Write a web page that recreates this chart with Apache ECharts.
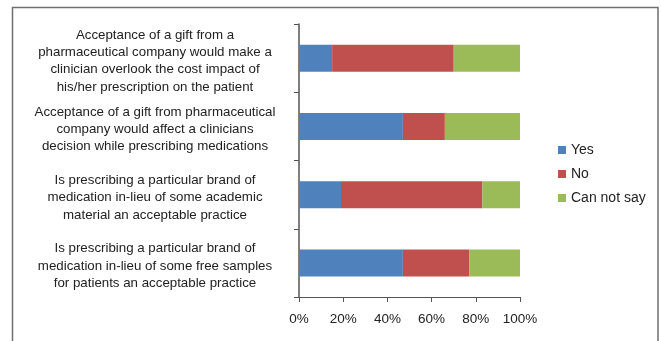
<!DOCTYPE html>
<html><head><meta charset="utf-8">
<script src="https://cdn.jsdelivr.net/npm/echarts@6/dist/echarts.min.js"></script>
<style>html,body{margin:0;padding:0;background:#fff}#c{width:661px;height:341px}</style>
</head><body><div id="c"></div>
<script>
const categories = [
  "Acceptance of a gift from a\npharmaceutical company would make a\nclinician overlook the cost impact of\nhis/her prescription on the patient",
  "Acceptance of a gift from pharmaceutical\ncompany would affect a clinicians\ndecision while prescribing medications",
  "Is prescribing a particular brand of\nmedication in-lieu of some academic\nmaterial an acceptable practice",
  "Is prescribing a particular brand of\nmedication in-lieu of some free samples\nfor patients an acceptable practice"
];
const seriesNames = ["Yes", "No", "Can not say"];
const yesValues = [15, 47, 19, 47];
const noValues = [55, 19, 64, 30];
const cannotValues = [30, 34, 17, 23];
const colors = ["#4F81BD", "#C0504D", "#9BBB59"];

const chart = echarts.init(document.getElementById('c'), null, {renderer: 'canvas'});
const font = 'Liberation Sans, Arial, sans-serif';
const mk = (name, data, i) => ({
  name, type: 'bar', stack: 'total', data, barWidth: 27,
  itemStyle: {color: colors[i]}, emphasis: {disabled: true}
});
chart.setOption({
  animation: false,
  textStyle: {fontFamily: font},
  graphic: [{
    type: 'rect', shape: {x: 12.5, y: 7.5, width: 645.5, height: 400},
    style: {fill: 'none', stroke: '#6f6f6f', lineWidth: 1.5}, silent: true
  }],
  legend: {
    orient: 'vertical', left: 553, top: 138,
    itemWidth: 8, itemHeight: 8, itemGap: 10,
    icon: 'rect',
    textStyle: {fontSize: 14, color: '#222', fontFamily: font},
    data: seriesNames
  },
  grid: {left: 299, top: 24, width: 221, height: 273, containLabel: false},
  xAxis: {
    type: 'value', min: 0, max: 100, interval: 20,
    axisLabel: {formatter: '{value}%', fontSize: 13.5, color: '#222', margin: 15, fontFamily: font},
    axisLine: {show: true, lineStyle: {color: '#555', width: 1}},
    axisTick: {show: true, length: 5, lineStyle: {color: '#555'}},
    splitLine: {show: false}
  },
  yAxis: {
    type: 'category', data: categories, inverse: true,
    axisLine: {show: true, lineStyle: {color: '#555', width: 1.5}},
    axisTick: {show: true, length: 5, lineStyle: {color: '#555'}},
    axisLabel: {fontSize: 13.3, color: '#222', lineHeight: 17.3, align: 'center', margin: 144,
      fontFamily: font,
      formatter: v => '{s| }\n' + v.split('\n').map(l => '{t|' + l + '}').join('\n'),
      rich: {
        s: {fontSize: 4, lineHeight: 6},
        t: {fontSize: 13.3, lineHeight: 17.3, color: '#222', fontFamily: font, align: 'center'}
      }
    }
  },
  series: [mk(seriesNames[0], yesValues, 0), mk(seriesNames[1], noValues, 1), mk(seriesNames[2], cannotValues, 2)]
});
</script></body></html>
